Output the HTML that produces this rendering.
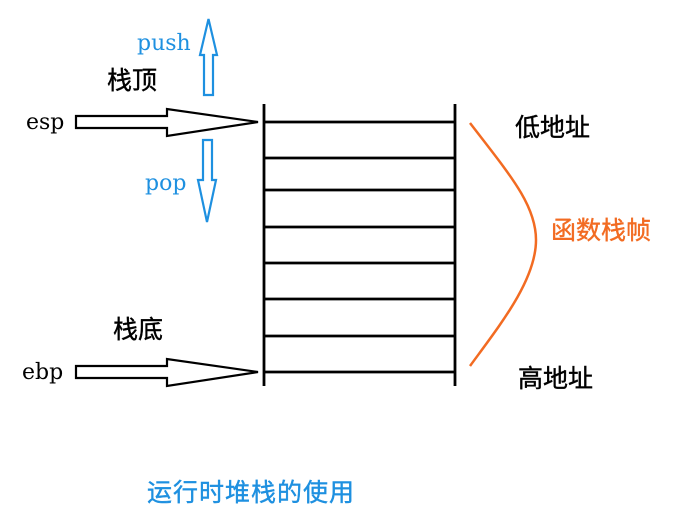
<!DOCTYPE html>
<html><head><meta charset="utf-8"><style>
html,body{margin:0;padding:0;background:#fff;width:676px;height:509px;overflow:hidden}
svg{display:block}
.lat{font-family:"DejaVu Serif","Liberation Serif",serif;font-size:22px}
.cjk{font-family:"Liberation Sans","Noto Sans CJK SC",sans-serif;font-size:25px;stroke-width:0.4}
</style></head><body>
<svg width="676" height="509" viewBox="0 0 676 509">
<g stroke="#000" stroke-width="2.8" fill="none">
<line x1="264" y1="104" x2="264" y2="386"/>
<line x1="455" y1="104" x2="455" y2="386"/>
<line x1="264" y1="122" x2="455" y2="122"/>
<line x1="264" y1="158" x2="455" y2="158"/>
<line x1="264" y1="190" x2="455" y2="190"/>
<line x1="264" y1="227" x2="455" y2="227"/>
<line x1="264" y1="263" x2="455" y2="263"/>
<line x1="264" y1="299" x2="455" y2="299"/>
<line x1="264" y1="336" x2="455" y2="336"/>
<line x1="264" y1="372" x2="455" y2="372"/>
</g>
<g stroke="#000" stroke-width="2.2" fill="#fff">
<polygon points="76,116 167,116 167,109 258,122 167,136 167,128 76,128"/>
<polygon points="76,366 167,366 167,359 258,372 167,386 167,378 76,378"/>
</g>
<g stroke="#1e90e0" stroke-width="2.2" fill="#fff">
<polygon points="204,95 204,55 200,55 208.5,19 217,55 213,55 213,95"/>
<polygon points="203,140 203,180 198,180 207,222 216,180 212,180 212,140"/>
</g>
<path d="M470,123 C510,175 536,205 536,240 C536,280 500,325 470,366" stroke="#f26b22" stroke-width="2.5" fill="none"/>
<text x="137" y="50" class="lat" fill="#1e90e0">push</text>
<text x="145" y="190" class="lat" fill="#1e90e0">pop</text>
<text x="26" y="129" class="lat" fill="#000">esp</text>
<text x="22" y="379" class="lat" fill="#000">ebp</text>
<text x="107" y="89" class="cjk" fill="#000" stroke="#000">栈顶</text>
<text x="113" y="338" class="cjk" fill="#000" stroke="#000">栈底</text>
<text x="515" y="136" class="cjk" fill="#000" stroke="#000">低地址</text>
<text x="518" y="387" class="cjk" fill="#000" stroke="#000">高地址</text>
<text x="551" y="239" class="cjk" fill="#f26b22" stroke="#f26b22">函数栈帧</text>
<text x="147" y="501" class="cjk" fill="#1e90e0" stroke="#1e90e0" style="letter-spacing:1px">运行时堆栈的使用</text>
</svg>
</body></html>
